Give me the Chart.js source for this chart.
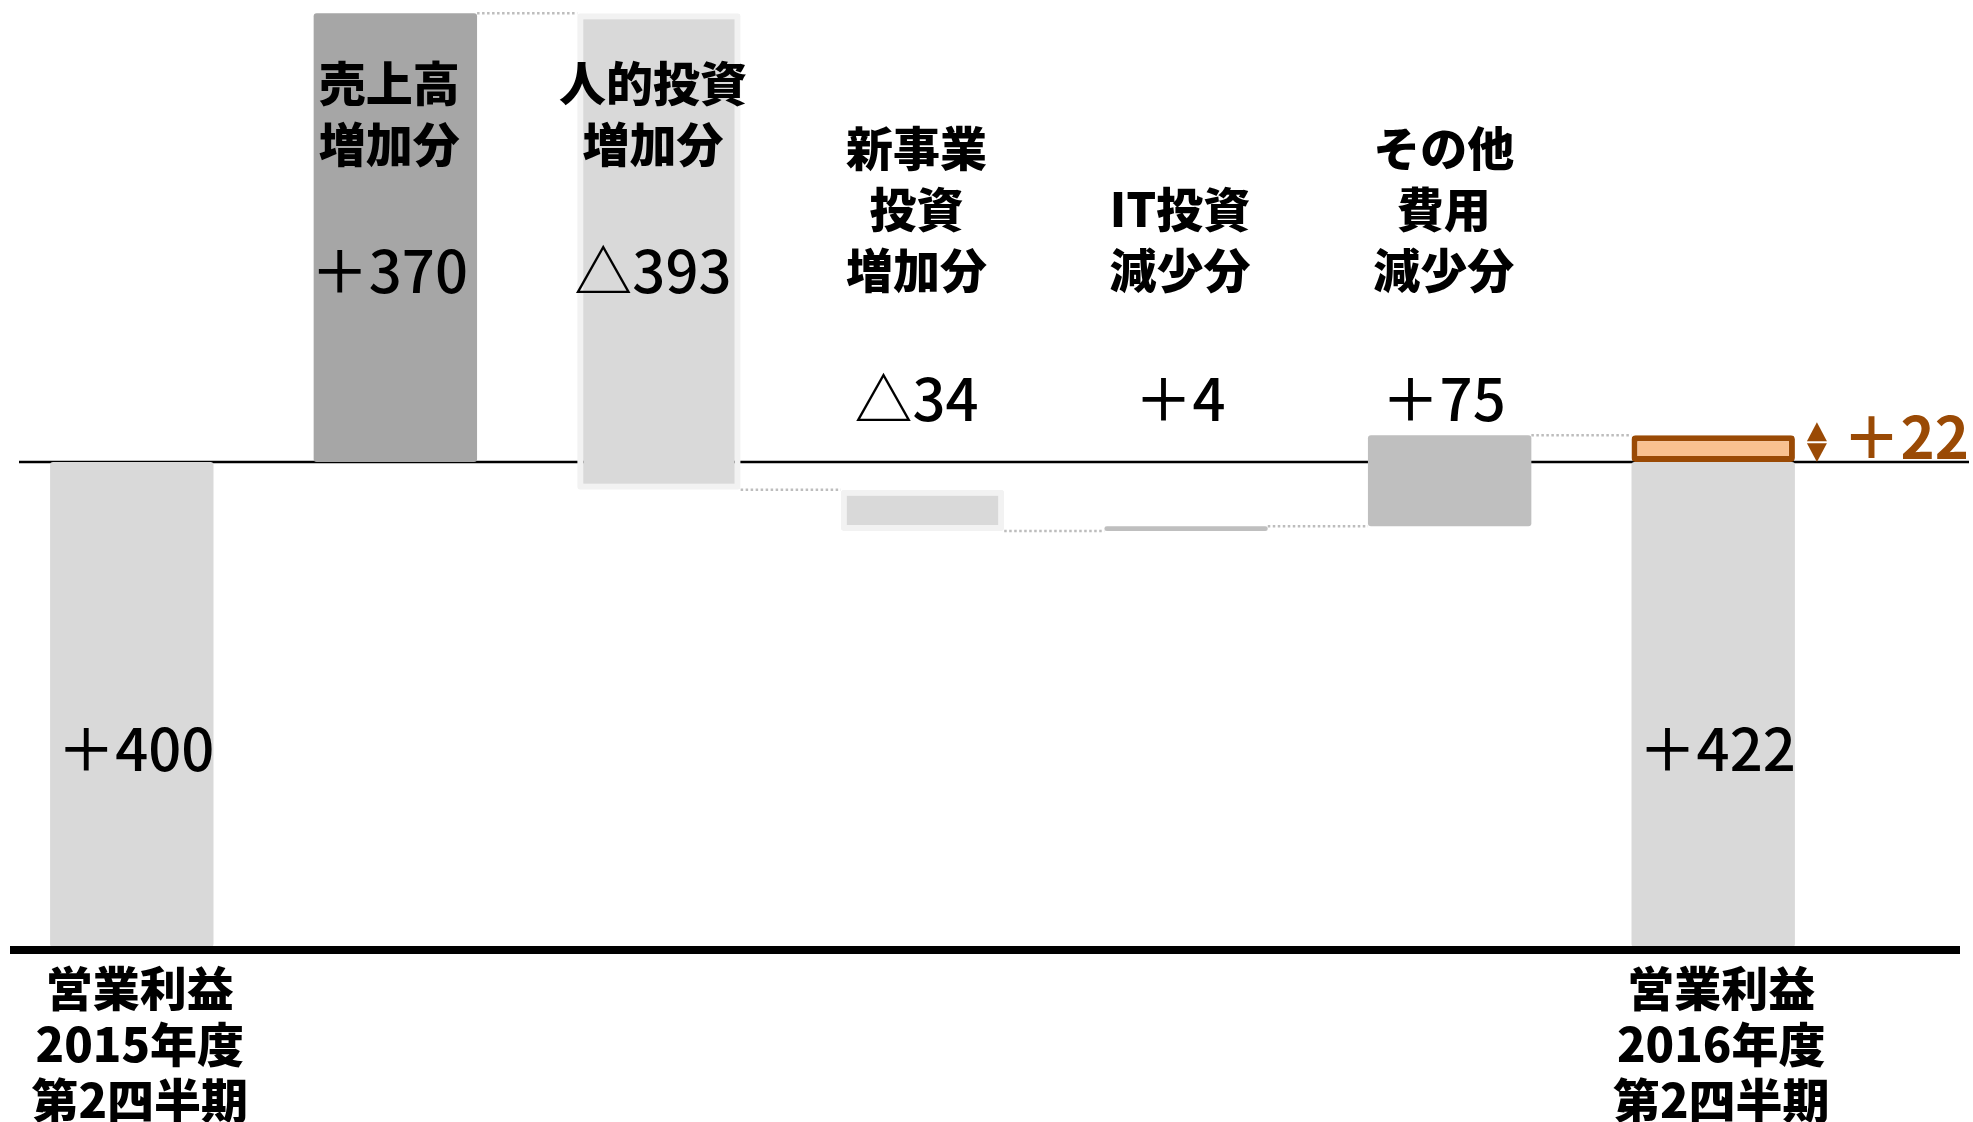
<!DOCTYPE html>
<html><head><meta charset="utf-8">
<script src="https://cdn.jsdelivr.net/npm/chart.js@4.4.0/dist/chart.umd.min.js"></script>
<style>html,body{margin:0;padding:0;background:#fff;}#wrap{width:1973px;height:1122px;position:relative;}</style>
</head><body><div id="wrap"><canvas id="c"></canvas></div>
<script>
// ---- data ----
const categories = [
  ['営業利益','2015年度','第2四半期'],
  ['売上高','増加分'],
  ['人的投資','増加分'],
  ['新事業','投資','増加分'],
  ['IT投資','減少分'],
  ['その他','費用','減少分'],
  ['営業利益','2016年度','第2四半期']
];
const startValue = 400;
const changes = [370, -393, -34, 4, 75];
const endValue = 422;
const valueLabels = ['＋400','＋370','△393','△34','＋4','＋75','＋422'];
const diffLabel = '＋22';

// ---- styles ----
const barColors = ['#D9D9D9','#A6A6A6','#D9D9D9','#D9D9D9','#BFBFBF','#BFBFBF','#D9D9D9'];
const barBorderColors = ['#D9D9D9','#A6A6A6','#F2F2F2','#F2F2F2','#BFBFBF','#BFBFBF','#D9D9D9'];
const barBorderWidths = [0,0,6,6,0,0,0];
const BROWN = '#9A4A05';
const PEACH = '#F9C190';
const NAME_FONT = '900 47px "Noto Sans CJK JP", sans-serif';
const VALUE_FONT = '500 58px "Noto Sans CJK JP", sans-serif';

// ---- build floating ranges ----
const ranges = [[0, startValue]];
const levels = [startValue];
let run = startValue;
for (const c of changes) { ranges.push([run, run + c]); run += c; levels.push(run); }
ranges.push([0, startValue]);
const deltaData = categories.map((_, i) => i === categories.length - 1 ? [startValue, endValue] : null);

const annot = {
  id: 'annot',
  beforeDatasetsDraw(chart) {
    const ctx = chart.ctx, y = chart.scales.y;
    const yz = y.getPixelForValue(startValue);
    ctx.save();
    ctx.strokeStyle = '#000'; ctx.lineWidth = 2.5;
    ctx.beginPath(); ctx.moveTo(19, yz); ctx.lineTo(1969, yz); ctx.stroke();
    ctx.restore();
  },
  afterDatasetsDraw(chart) {
    const ctx = chart.ctx, x = chart.scales.x, y = chart.scales.y;
    const meta = chart.getDatasetMeta(0).data;
    const metaD = chart.getDatasetMeta(1).data;
    ctx.save();
    // connectors
    ctx.strokeStyle = '#BDBDBD'; ctx.lineWidth = 2.5; ctx.setLineDash([2.5, 2.5]);
    for (let i = 1; i < categories.length - 1; i++) {
      const a = meta[i], b = (i + 1 === categories.length - 1) ? metaD[i + 1] : meta[i + 1];
      const ly = y.getPixelForValue(levels[i]);
      ctx.beginPath(); ctx.moveTo(a.x + a.width / 2, ly); ctx.lineTo(b.x - b.width / 2, ly); ctx.stroke();
    }
    ctx.setLineDash([]);
    // bottom thick line
    const y0 = y.getPixelForValue(0);
    ctx.fillStyle = '#000';
    ctx.fillRect(10, y0 - 1, 1950, 8);
    // texts
    ctx.textAlign = 'center'; ctx.textBaseline = 'middle';
    const last = categories.length - 1;
    categories.forEach((lines, i) => {
      const cx = x.getPixelForValue(i);
      ctx.fillStyle = '#000';
      if (i === 0 || i === last) {
        ctx.font = NAME_FONT;
        lines.forEach((t, k) => ctx.fillText(t, cx + 8, y0 + 41 + k * 56));
        ctx.font = VALUE_FONT;
        ctx.fillText(valueLabels[i], cx + 4, 749);
      } else {
        const bottomY = (i <= 2) ? 144 : 270;
        const valY = (i <= 2) ? 271 : 399;
        ctx.font = NAME_FONT;
        lines.forEach((t, k) => ctx.fillText(t, cx - 6, bottomY - (lines.length - 1 - k) * 61));
        ctx.font = VALUE_FONT;
        ctx.fillText(valueLabels[i], cx - 6, valY);
      }
    });
    // diff arrow & label
    const ob = metaD[last];
    const ax = ob.x + ob.width / 2 + 22;
    const yTop = y.getPixelForValue(endValue) - 13, yBot = y.getPixelForValue(startValue);
    const yMid = (yTop + yBot) / 2;
    ctx.fillStyle = BROWN;
    ctx.beginPath(); ctx.moveTo(ax, yTop); ctx.lineTo(ax + 10, yMid - 1); ctx.lineTo(ax - 10, yMid - 1); ctx.closePath(); ctx.fill();
    ctx.beginPath(); ctx.moveTo(ax, yBot); ctx.lineTo(ax + 10, yMid + 1); ctx.lineTo(ax - 10, yMid + 1); ctx.closePath(); ctx.fill();
    ctx.font = '700 58px "Noto Sans CJK JP", sans-serif';
    ctx.textAlign = 'right';
    ctx.fillText(diffLabel, 1969, (y.getPixelForValue(endValue) + yBot) / 2 - 12);
    ctx.restore();
  }
};

new Chart(document.getElementById('c'), {
  type: 'bar',
  data: {
    labels: categories.map(l => l.join('')),
    datasets: [
      { data: ranges, backgroundColor: barColors, borderColor: barBorderColors, borderWidth: barBorderWidths,
        borderSkipped: false, borderRadius: 3, barPercentage: 0.62, categoryPercentage: 1, grouped: false },
      { data: deltaData, backgroundColor: PEACH, borderColor: BROWN, borderWidth: 6,
        borderSkipped: false, borderRadius: 4, barPercentage: 0.62, categoryPercentage: 1, grouped: false }
    ]
  },
  options: {
    responsive: true, maintainAspectRatio: false, animation: false,
    layout: { padding: { left: 0, right: 128, top: 0, bottom: 175 } },
    plugins: { legend: { display: false }, tooltip: { enabled: false } },
    scales: {
      x: { display: false },
      y: { display: false, min: 0, max: 781 }
    }
  },
  plugins: [annot]
});
</script></body></html>
